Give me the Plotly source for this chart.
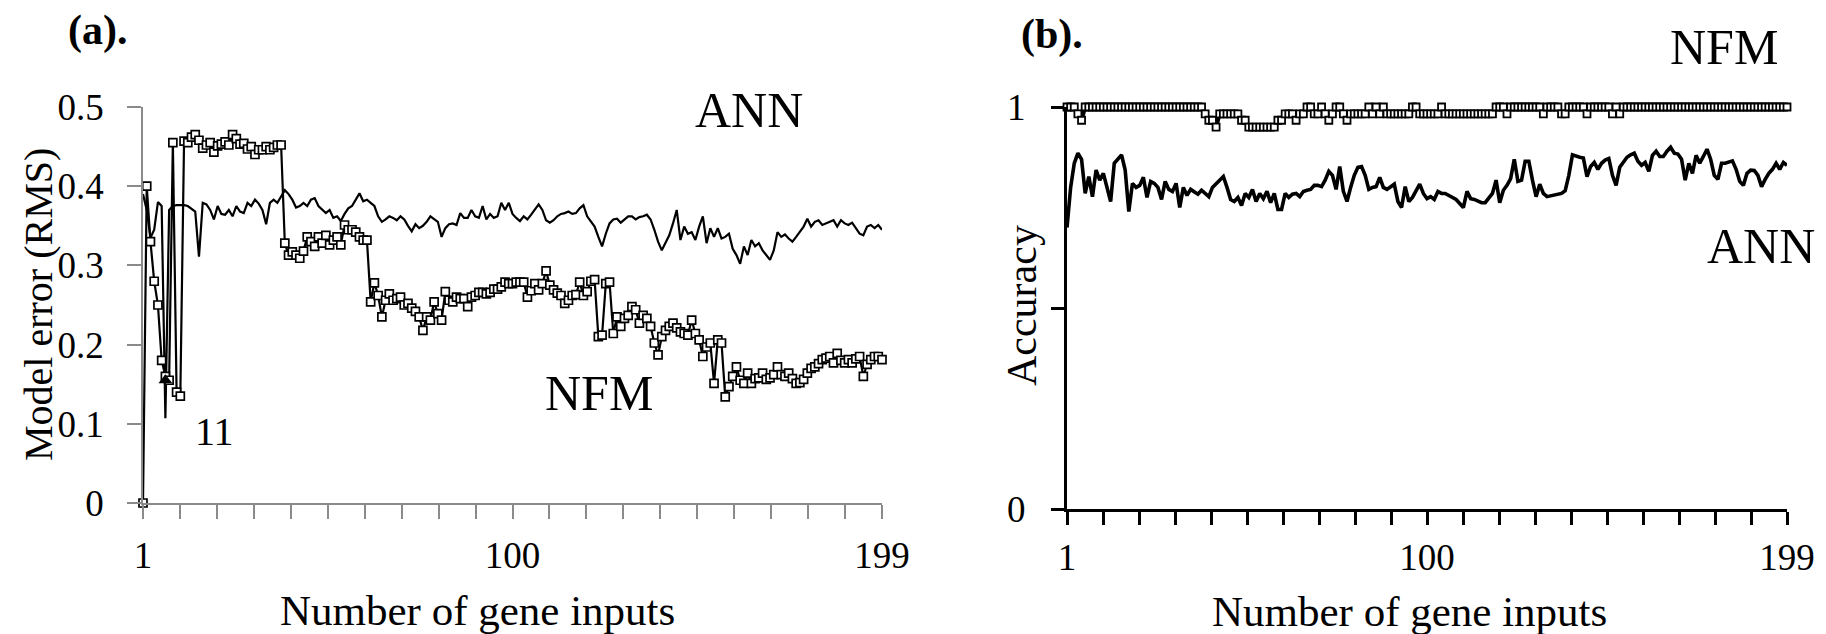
import plotly.graph_objects as go

# ---------------- data ----------------
genes = list(range(1, 200))

nfm_rms = [
    0.000, 0.400, 0.330, 0.280, 0.250, 0.180, 0.160, 0.155, 0.455, 0.140,
    0.135, 0.457, 0.455, 0.462, 0.465, 0.458, 0.448, 0.452, 0.455, 0.443,
    0.451, 0.453, 0.456, 0.452, 0.465, 0.460, 0.453, 0.454, 0.447, 0.450,
    0.440, 0.446, 0.446, 0.450, 0.446, 0.449, 0.452, 0.452, 0.328, 0.313,
    0.317, 0.313, 0.309, 0.318, 0.336, 0.330, 0.324, 0.336, 0.328, 0.338,
    0.326, 0.332, 0.336, 0.326, 0.351, 0.345, 0.345, 0.342, 0.336, 0.332,
    0.332, 0.254, 0.278, 0.262, 0.235, 0.256, 0.264, 0.256, 0.258, 0.260,
    0.250, 0.252, 0.246, 0.242, 0.235, 0.218, 0.235, 0.231, 0.254, 0.239,
    0.231, 0.267, 0.256, 0.254, 0.260, 0.258, 0.258, 0.248, 0.260, 0.262,
    0.266, 0.266, 0.264, 0.266, 0.270, 0.270, 0.273, 0.279, 0.277, 0.277,
    0.279, 0.279, 0.279, 0.260, 0.268, 0.277, 0.269, 0.277, 0.293, 0.275,
    0.269, 0.265, 0.262, 0.252, 0.256, 0.262, 0.263, 0.279, 0.262, 0.267,
    0.280, 0.282, 0.210, 0.212, 0.277, 0.279, 0.214, 0.235, 0.223, 0.233,
    0.237, 0.248, 0.244, 0.227, 0.237, 0.233, 0.223, 0.202, 0.187, 0.210,
    0.218, 0.223, 0.227, 0.221, 0.216, 0.214, 0.212, 0.231, 0.214, 0.206,
    0.185, 0.197, 0.202, 0.151, 0.206, 0.202, 0.134, 0.147, 0.160, 0.172,
    0.155, 0.151, 0.164, 0.151, 0.157, 0.158, 0.164, 0.156, 0.158, 0.162,
    0.172, 0.162, 0.160, 0.164, 0.157, 0.151, 0.152, 0.156, 0.164, 0.170,
    0.172, 0.176, 0.181, 0.183, 0.185, 0.177, 0.189, 0.180, 0.177, 0.181,
    0.177, 0.182, 0.185, 0.160, 0.175, 0.181, 0.185, 0.185, 0.181,
]

ann_rms = [
    0.390, 0.370, 0.335, 0.345, 0.380, 0.375, 0.107, 0.370, 0.375, 0.376,
    0.376, 0.376, 0.375, 0.372, 0.368, 0.311, 0.379, 0.377, 0.370, 0.358,
    0.375, 0.365, 0.364, 0.370, 0.362, 0.375, 0.368, 0.366, 0.379, 0.375,
    0.383, 0.378, 0.370, 0.352, 0.379, 0.383, 0.379, 0.387, 0.395, 0.390,
    0.383, 0.373, 0.375, 0.379, 0.375, 0.383, 0.385, 0.375, 0.370, 0.366,
    0.370, 0.360, 0.362, 0.356, 0.365, 0.372, 0.375, 0.383, 0.391, 0.381,
    0.383, 0.379, 0.375, 0.362, 0.355, 0.358, 0.362, 0.360, 0.357, 0.362,
    0.358, 0.350, 0.343, 0.352, 0.347, 0.350, 0.355, 0.362, 0.358, 0.355,
    0.336, 0.347, 0.352, 0.353, 0.351, 0.366, 0.360, 0.360, 0.370, 0.362,
    0.360, 0.375, 0.358, 0.365, 0.360, 0.362, 0.379, 0.370, 0.379, 0.365,
    0.360, 0.356, 0.362, 0.358, 0.364, 0.370, 0.377, 0.370, 0.357, 0.354,
    0.357, 0.362, 0.365, 0.366, 0.368, 0.365, 0.366, 0.372, 0.376, 0.362,
    0.355, 0.349, 0.336, 0.324, 0.340, 0.353, 0.358, 0.359, 0.354, 0.358,
    0.362, 0.362, 0.358, 0.361, 0.362, 0.364, 0.358, 0.345, 0.330, 0.319,
    0.328, 0.338, 0.353, 0.370, 0.332, 0.349, 0.340, 0.342, 0.332, 0.349,
    0.362, 0.328, 0.347, 0.336, 0.347, 0.334, 0.336, 0.340, 0.321, 0.313,
    0.302, 0.324, 0.313, 0.332, 0.324, 0.328, 0.319, 0.313, 0.307, 0.319,
    0.342, 0.336, 0.339, 0.334, 0.330, 0.336, 0.342, 0.349, 0.359, 0.349,
    0.355, 0.357, 0.351, 0.353, 0.355, 0.357, 0.349, 0.357, 0.353, 0.351,
    0.354, 0.347, 0.340, 0.338, 0.349, 0.351, 0.347, 0.351, 0.345,
]

nfm_acc = [
    1.000, 1.000, 1.000, 0.983, 0.967, 1.000, 1.000, 1.000, 1.000, 1.000,
    1.000, 1.000, 1.000, 1.000, 1.000, 1.000, 1.000, 1.000, 1.000, 1.000,
    1.000, 1.000, 1.000, 1.000, 1.000, 1.000, 1.000, 1.000, 1.000, 1.000,
    1.000, 1.000, 1.000, 1.000, 1.000, 1.000, 1.000, 1.000, 0.983, 0.967,
    0.967, 0.950, 0.983, 0.983, 0.983, 0.983, 0.983, 0.983, 0.967, 0.967,
    0.950, 0.950, 0.950, 0.950, 0.950, 0.950, 0.950, 0.950, 0.967, 0.967,
    0.983, 0.983, 0.983, 0.967, 0.983, 0.983, 1.000, 1.000, 0.983, 0.983,
    1.000, 0.983, 0.967, 0.983, 1.000, 1.000, 0.983, 0.967, 0.983, 0.983,
    0.983, 0.983, 0.983, 1.000, 0.983, 1.000, 0.983, 1.000, 0.983, 0.983,
    0.983, 0.983, 0.983, 0.983, 0.983, 1.000, 1.000, 0.983, 0.983, 0.983,
    0.983, 0.983, 0.983, 1.000, 0.983, 0.983, 0.983, 0.983, 0.983, 0.983,
    0.983, 0.983, 0.983, 0.983, 0.983, 0.983, 0.983, 0.983, 1.000, 1.000,
    1.000, 0.983, 1.000, 1.000, 1.000, 1.000, 1.000, 1.000, 1.000, 1.000,
    1.000, 0.983, 1.000, 1.000, 1.000, 1.000, 0.983, 0.983, 1.000, 1.000,
    1.000, 1.000, 1.000, 0.983, 1.000, 1.000, 1.000, 1.000, 1.000, 1.000,
    0.983, 1.000, 0.983, 1.000, 1.000, 1.000, 1.000, 1.000, 1.000, 1.000,
    1.000, 1.000, 1.000, 1.000, 1.000, 1.000, 1.000, 1.000, 1.000, 1.000,
    1.000, 1.000, 1.000, 1.000, 1.000, 1.000, 1.000, 1.000, 1.000, 1.000,
    1.000, 1.000, 1.000, 1.000, 1.000, 1.000, 1.000, 1.000, 1.000, 1.000,
    1.000, 1.000, 1.000, 1.000, 1.000, 1.000, 1.000, 1.000, 1.000,
]

ann_acc = [
    0.700, 0.800, 0.860, 0.885, 0.870, 0.785, 0.827, 0.777, 0.843, 0.818,
    0.835, 0.800, 0.765, 0.860, 0.870, 0.881, 0.843, 0.740, 0.810, 0.800,
    0.805, 0.825, 0.775, 0.815, 0.810, 0.800, 0.770, 0.815, 0.795, 0.790,
    0.810, 0.750, 0.800, 0.780, 0.795, 0.790, 0.783, 0.793, 0.785, 0.777,
    0.800, 0.810, 0.820, 0.827, 0.800, 0.770, 0.765, 0.775, 0.755, 0.785,
    0.775, 0.795, 0.765, 0.785, 0.772, 0.790, 0.762, 0.785, 0.745, 0.745,
    0.785, 0.775, 0.783, 0.785, 0.777, 0.790, 0.793, 0.795, 0.805, 0.805,
    0.802, 0.818, 0.840, 0.830, 0.795, 0.852, 0.790, 0.765, 0.800, 0.830,
    0.850, 0.852, 0.830, 0.795, 0.800, 0.802, 0.825, 0.800, 0.795, 0.802,
    0.808, 0.765, 0.750, 0.802, 0.765, 0.775, 0.793, 0.808, 0.785, 0.772,
    0.777, 0.770, 0.790, 0.785, 0.785, 0.780, 0.775, 0.770, 0.760, 0.750,
    0.790, 0.772, 0.770, 0.767, 0.762, 0.762, 0.775, 0.785, 0.818, 0.762,
    0.793, 0.805, 0.822, 0.870, 0.815, 0.818, 0.865, 0.865, 0.818, 0.777,
    0.808, 0.785, 0.777, 0.779, 0.780, 0.781, 0.785, 0.792, 0.830, 0.881,
    0.877, 0.875, 0.873, 0.827, 0.852, 0.862, 0.845, 0.860, 0.868, 0.872,
    0.830, 0.805, 0.850, 0.862, 0.875, 0.881, 0.885, 0.865, 0.855, 0.862,
    0.840, 0.880, 0.890, 0.877, 0.877, 0.890, 0.900, 0.885, 0.883, 0.870,
    0.818, 0.860, 0.835, 0.880, 0.860, 0.877, 0.895, 0.870, 0.830, 0.820,
    0.860, 0.860, 0.862, 0.866, 0.845, 0.815, 0.805, 0.835, 0.843, 0.842,
    0.830, 0.802, 0.820, 0.835, 0.845, 0.860, 0.845, 0.862, 0.855,
]

best_x = [7]
best_y = [0.155]

x_tick_vals = [1, 100, 199]
x_tick_text = ["1", "100", "199"]
x_minor_vals = [1 + 9.9 * k for k in range(21)]
rms_tick_vals = [0, 0.1, 0.2, 0.3, 0.4, 0.5]
rms_tick_text = ["0", "0.1", "0.2", "0.3", "0.4", "0.5"]
acc_tick_vals = [0, 0.5, 1]
acc_tick_text = ["0", "", "1"]

# ---------------- layout helpers ----------------
W, H = 1826, 634
FONT = "Liberation Serif, Times New Roman, serif"


def px(x):
    return x / W


def py(y):
    return 1 - y / H


GRAY = "#8a8a8a"

fig = go.Figure()

# (a) RMS error
fig.add_trace(go.Scatter(x=genes, y=ann_rms, mode="lines", name="ANN",
                         line=dict(color="black", width=2.2),
                         xaxis="x", yaxis="y", cliponaxis=False))
fig.add_trace(go.Scatter(x=genes, y=nfm_rms, mode="lines+markers", name="NFM",
                         line=dict(color="black", width=2.2),
                         marker=dict(symbol="square", size=8, color="white",
                                     line=dict(color="black", width=1.7)),
                         xaxis="x", yaxis="y", cliponaxis=False))
fig.add_trace(go.Scatter(x=best_x, y=best_y, mode="markers", name="best",
                         marker=dict(symbol="triangle-up", size=12, color="black"),
                         xaxis="x", yaxis="y", cliponaxis=False))

# (b) Accuracy
fig.add_trace(go.Scatter(x=genes, y=ann_acc, mode="lines", name="ANN",
                         line=dict(color="black", width=3.6),
                         xaxis="x2", yaxis="y2", cliponaxis=False))
fig.add_trace(go.Scatter(x=genes, y=nfm_acc, mode="lines+markers", name="NFM",
                         line=dict(color="black", width=4),
                         marker=dict(symbol="square", size=7, color="white",
                                     line=dict(color="black", width=1.8)),
                         xaxis="x2", yaxis="y2", cliponaxis=False))

tickfont = dict(family=FONT, size=37, color="black")

fig.update_layout(
    width=W, height=H,
    margin=dict(l=0, r=0, t=0, b=0, autoexpand=False),
    paper_bgcolor="white", plot_bgcolor="white",
    showlegend=False,
    font=dict(family=FONT, color="black"),
    xaxis=dict(domain=[px(143), px(882)], range=[1, 199], anchor="y",
               automargin=False,
               showgrid=False, zeroline=False, showline=True,
               linecolor=GRAY, linewidth=1.5,
               tickmode="array", tickvals=x_tick_vals, ticktext=x_tick_text,
               ticks="outside", ticklen=14, tickwidth=1.5, tickcolor=GRAY,
               ticklabelstandoff=5, tickfont=tickfont,
               minor=dict(tickvals=x_minor_vals, ticks="outside", ticklen=14,
                          tickwidth=1.5, tickcolor=GRAY, showgrid=False)),
    yaxis=dict(domain=[py(503), py(107)], range=[0, 0.5], anchor="x",
               automargin=False,
               showgrid=False, zeroline=False, showline=True,
               linecolor=GRAY, linewidth=1.5,
               tickmode="array", tickvals=rms_tick_vals, ticktext=rms_tick_text,
               ticks="outside", ticklen=14, tickwidth=1.5, tickcolor=GRAY,
               ticklabelstandoff=16, tickfont=tickfont),
    xaxis2=dict(domain=[px(1067), px(1787)], range=[1, 199], anchor="y2",
                automargin=False,
                showgrid=False, zeroline=False, showline=True,
                linecolor="black", linewidth=3,
                tickmode="array", tickvals=x_tick_vals, ticktext=x_tick_text,
                ticks="outside", ticklen=13, tickwidth=3, tickcolor="black",
                ticklabelstandoff=1, tickfont=tickfont,
                minor=dict(tickvals=x_minor_vals, ticks="outside", ticklen=13,
                           tickwidth=3, tickcolor="black", showgrid=False)),
    yaxis2=dict(domain=[py(509), py(107)], range=[0, 1], anchor="x2",
                automargin=False,
                showgrid=False, zeroline=False, showline=True,
                linecolor="black", linewidth=3,
                tickmode="array", tickvals=acc_tick_vals, ticktext=acc_tick_text,
                ticks="outside", ticklen=13, tickwidth=3, tickcolor="black",
                ticklabelstandoff=18, tickfont=tickfont),
)


def label(text, x, y, size, bold=False, angle=0):
    fig.add_annotation(text=f"<b>{text}</b>" if bold else text,
                       x=px(x), y=py(y), xref="paper", yref="paper",
                       xanchor="center", yanchor="middle", showarrow=False,
                       textangle=angle,
                       font=dict(family=FONT, size=size, color="black"))


label("(a).", 97, 30, 42, bold=True)
label("(b).", 1052, 34, 42, bold=True)
label("ANN", 749, 110, 50)
label("NFM", 599, 393, 50)
label("11", 214, 431, 40)
label("NFM", 1724, 47, 50)
label("ANN", 1761, 246, 50)
label("Model error (RMS)", 38, 305, 40, angle=-90)
label("Accuracy", 1022, 305, 42, angle=-90)
label("Number of gene inputs", 477, 610, 43)
label("Number of gene inputs", 1409, 611, 43)

fig.write_html("out.html",
               config={"displayModeBar": False},
               post_script="document.body.style.margin='0';document.body.style.overflow='hidden';")
